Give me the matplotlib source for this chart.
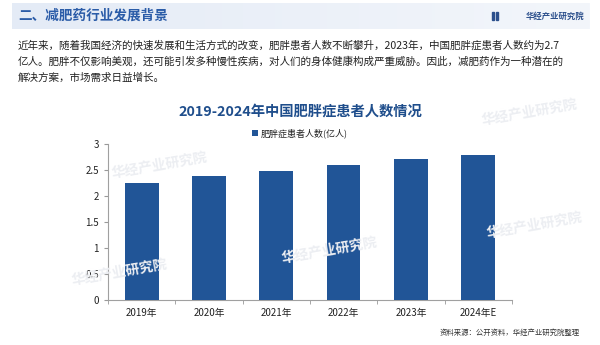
import matplotlib.pyplot as plt
import numpy as np
from matplotlib.patches import Rectangle
from matplotlib.colors import LinearSegmentedColormap

plt.rcParams['font.family'] = ['Noto Sans CJK SC', 'DejaVu Sans']

years = ['2019年', '2020年', '2021年', '2022年', '2023年', '2024年E']
patients = [2.25, 2.37, 2.47, 2.59, 2.7, 2.77]  # 亿人
yticks = [0, 0.5, 1, 1.5, 2, 2.5, 3]
ytick_labels = ['0', '0.5', '1', '1.5', '2', '2.5', '3']

header = '二、减肥药行业发展背景'
brand = '华经产业研究院'
intro = ['近年来，随着我国经济的快速发展和生活方式的改变，肥胖患者人数不断攀升，2023年，中国肥胖症患者人数约为2.7',
         '亿人。肥胖不仅影响美观，还可能引发多种慢性疾病，对人们的身体健康构成严重威胁。因此，减肥药作为一种潜在的',
         '解决方案，市场需求日益增长。']
chart_title = '2019-2024年中国肥胖症患者人数情况'
series_name = '肥胖症患者人数(亿人)'
source = '资料来源：公开资料，华经产业研究院整理'

W, H = 600, 345
fig = plt.figure(figsize=(6, 3.45), dpi=100)
fig.patch.set_facecolor('white')

def fx(px):
    return px / W

def fy(py):
    return 1 - py / H

# 顶部标题条，左深右浅的渐变
grad = np.linspace(0, 1, 256).reshape(1, -1)
band = fig.add_axes([fx(12), fy(29), fx(578), 26 / H])
band.imshow(grad, aspect='auto', extent=[0, 1, 0, 1],
            cmap=LinearSegmentedColormap.from_list('band', ['#e4ebf6', '#f3f6fb']))
band.axis('off')

fig.text(fx(18), fy(16), header, fontsize=9.8, fontweight='bold', color='#2b5ca8', va='center', ha='left')
fig.text(fx(584), fy(16), brand, fontsize=6, fontweight='bold', color='#2b4f8c', va='center', ha='right')
# 品牌小图标
for dx in (0, 3.5):
    fig.patches.append(Rectangle((fx(492 + dx), fy(20)), fx(2.5), 8 / H, color='#2b4f8c',
                                 transform=fig.transFigure, figure=fig))

for i, line in enumerate(intro):
    fig.text(fx(18), fy(46 + i * 16), line, fontsize=7.6, color='#222222', va='center', ha='left')

# 浅色水印
for (x, y) in [(160, 165), (120, 272), (330, 250), (530, 112), (535, 225)]:
    fig.text(fx(x), fy(y), brand, fontsize=10, color='#eceef2', rotation=10,
             ha='center', va='center', fontweight='bold', zorder=0)

fig.text(0.5, fy(112), chart_title, fontsize=10.3, fontweight='bold', color='#1f4e8c', ha='center', va='center')

ax = fig.add_axes([fx(108), fy(300), fx(404), (300 - 143.5) / H])
ax.patch.set_alpha(0)
x = np.arange(len(years))
bars = ax.bar(x, patients, width=0.5, color='#215597', label=series_name, zorder=3)

ax.set_xlim(-0.5, len(years) - 0.5)
ax.set_ylim(0, 3)
ax.set_yticks(yticks)
ax.set_yticklabels(ytick_labels)
ax.set_xticks(x)
ax.set_xticklabels(years)
ax.set_xticks(np.arange(-0.5, len(years), 1), minor=True)
ax.tick_params(axis='x', which='major', length=0, pad=6, labelsize=7, labelcolor='#222222')
ax.tick_params(axis='x', which='minor', length=3, color='#999999')
ax.tick_params(axis='y', length=3, color='#999999', labelsize=7, labelcolor='#222222')
for side in ['top', 'right']:
    ax.spines[side].set_visible(False)
for side in ['left', 'bottom']:
    ax.spines[side].set_color('#a0a0a0')
    ax.spines[side].set_linewidth(0.8)

leg = ax.legend(loc='lower center', bbox_to_anchor=(0.475, 1.0), frameon=False, fontsize=6.5,
                handlelength=0.6, handleheight=0.6, handletextpad=0.3, borderaxespad=0.2)
for t in leg.get_texts():
    t.set_color('#222222')

fig.text(fx(580), fy(333), source, fontsize=5.3, color='#333333', ha='right', va='center')

fig.savefig('out.png', dpi=100)
